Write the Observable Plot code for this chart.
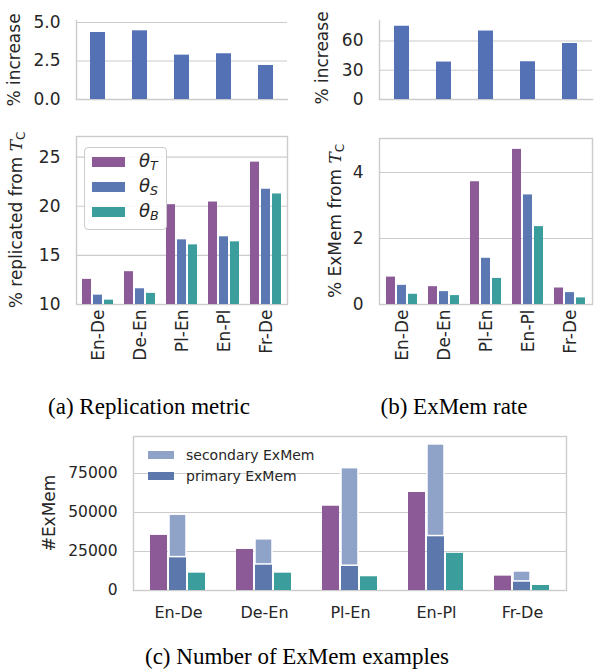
<!DOCTYPE html>
<html>
<head>
<meta charset="utf-8">
<script src="https://cdn.jsdelivr.net/npm/d3@7"></script>
<script src="https://cdn.jsdelivr.net/npm/@observablehq/plot@0.6"></script>
<style>
  body { margin: 0; background: white; }
  #fig { position: relative; width: 594px; height: 672px; overflow: hidden;
         font-family: "DejaVu Sans", sans-serif; color: #262626; }
  .ylab { position: absolute; white-space: nowrap; font-size: 17px; line-height: 1;
          transform: translate(-50%, -50%) rotate(-90deg); }
  .cap { position: absolute; white-space: nowrap; font-family: "Liberation Serif", serif;
         font-size: 23px; line-height: 23px; color: #000; transform: translateX(-50%); }
  .leg { position: absolute; }
  .patch { position: absolute; }
  .ltext { position: absolute; white-space: nowrap; transform: translateY(-50%); line-height: 1; }
  sub { font-size: 70%; vertical-align: -0.25em; }
</style>
</head>
<body>
<div id="fig"></div>
<script>
const pairs = ["En-De", "De-En", "Pl-En", "En-Pl", "Fr-De"];
const models = ["T", "S", "B"];

// (a) replication metric
const replIncrease = [4.35, 4.46, 2.88, 2.97, 2.21];
const replIncreaseTicks = [0, 2.5, 5];
const replT = [12.56, 13.34, 20.16, 20.43, 24.49];
const replS = [10.95, 11.60, 16.58, 16.89, 21.73];
const replB = [10.44, 11.13, 16.07, 16.38, 21.25];
const replTicks = [10, 15, 20, 25];

// (b) ExMem rate
const rateIncrease = [75.1, 38.4, 70.2, 38.7, 57.4];
const rateIncreaseTicks = [0, 30, 60];
const rateT = [0.83, 0.54, 3.72, 4.70, 0.50];
const rateS = [0.58, 0.39, 1.40, 3.32, 0.36];
const rateB = [0.31, 0.27, 0.79, 2.36, 0.20];
const rateTicks = [0, 2, 4];

// (c) number of ExMem examples
const countT = [35300, 26300, 54000, 62800, 9200];
const countPrimary = [21400, 16700, 15900, 34900, 5800];
const countTotal = [48600, 32800, 78400, 93600, 12200];
const countB = [11100, 11100, 8800, 23800, 3200];
const countTicks = [0, 25000, 50000, 75000];

const ink = "#262626", edge = "#cccccc";
const modelColors = ["#8b5a97", "#5c78b3", "#3c9e9c"];
const barBlue = "#5471b6", primBlue = "#5b77ab", lightBlue = "#8fa2c8";

const fig = document.getElementById("fig");

function place(node, left, top) {
  node.style.position = "absolute";
  node.style.left = left + "px";
  node.style.top = top + "px";
  fig.append(node);
}

function baseStyle(size) {
  return {fontFamily: "DejaVu Sans", fontSize: size + "px", color: ink,
          background: "transparent", overflow: "visible"};
}

function groupedRows(t, s, b) {
  return pairs.flatMap((p, i) => [
    {pair: p, model: "T", value: t[i]},
    {pair: p, model: "S", value: s[i]},
    {pair: p, model: "B", value: b[i]}
  ]);
}

// small "% increase" panels on top
function topPanel(values, ticks, fmt, ymax, ml, mr) {
  const rows = pairs.map((p, i) => ({pair: p, value: values[i]}));
  return Plot.plot({
    width: 297, height: 108,
    marginLeft: ml, marginRight: mr, marginTop: 20, marginBottom: 9,
    style: baseStyle(17),
    x: {domain: pairs, paddingInner: 0.64, paddingOuter: 0.32, axis: null},
    y: {domain: [0, ymax]},
    marks: [
      Plot.gridY(ticks, {stroke: edge, strokeOpacity: 1, strokeWidth: 1.2}),
      Plot.frame({anchor: "left", stroke: edge, strokeWidth: 1.4}),
      Plot.frame({anchor: "bottom", stroke: edge, strokeWidth: 1.4}),
      Plot.barY(rows, {x: "pair", y: "value", fill: barBlue}),
      Plot.axisY(ticks, {tickSize: 0, tickPadding: 16, tickFormat: fmt, label: null})
    ]
  });
}

// grid, frame and y axis behind the faceted bars
function background(w, h, m, domain, ticks, fmt, size) {
  return Plot.plot({
    width: w, height: h,
    marginLeft: m[0], marginRight: m[1], marginTop: m[2], marginBottom: m[3],
    style: baseStyle(size),
    y: {domain},
    marks: [
      Plot.gridY(ticks, {stroke: edge, strokeOpacity: 1, strokeWidth: 1.2}),
      Plot.frame({stroke: edge, strokeWidth: 1.4}),
      Plot.axisY(ticks, {tickSize: 0, tickPadding: 16, tickFormat: fmt, label: null})
    ]
  });
}

function midBars(rows, domain, m) {
  return Plot.plot({
    width: 297, height: 260,
    marginLeft: m[0], marginRight: m[1], marginTop: m[2], marginBottom: m[3],
    style: baseStyle(17),
    fx: {domain: pairs, paddingInner: 0.2, paddingOuter: 0.1, axis: "bottom", label: null,
         tickRotate: -90, tickSize: 0, tickPadding: 5},
    x: {domain: models, paddingInner: 0.15, paddingOuter: 0.075, axis: null},
    y: {domain, axis: null},
    color: {domain: models, range: modelColors},
    marks: [
      Plot.barY(rows, {fx: "pair", x: "model", y1: domain[0], y2: "value", fill: "model"})
    ]
  });
}

// ---- top row
place(topPanel(replIncrease, replIncreaseTicks, ".1f", 5.13, 76, 10), 0, 0);
place(topPanel(rateIncrease, rateIncreaseTicks, "d", 81, 82, 2), 297, 0);

// ---- middle row
const replDomain = [10, 27.1];
const rateDomain = [0, 5.03];
const mLeft = [76, 10, 16, 76];
const mRight = [82, 2, 18, 76];
place(background(297, 260, mLeft, replDomain, replTicks, "d", 17), 0, 120);
place(midBars(groupedRows(replT, replS, replB), replDomain, mLeft), 0, 120);
place(background(297, 260, mRight, rateDomain, rateTicks, "d", 17), 297, 120);
place(midBars(groupedRows(rateT, rateS, rateB), rateDomain, mRight), 297, 120);

// ---- bottom chart
const countDomain = [0, 98700];
const mBottom = [133, 28, 16, 45];
place(background(594, 215, mBottom, countDomain, countTicks, "d", 15.5), 0, 420);

const solidRows = pairs.flatMap((p, i) => [
  {pair: p, model: "T", y1: 0, y2: countT[i], color: modelColors[0]},
  {pair: p, model: "S", y1: 0, y2: countPrimary[i], color: primBlue},
  {pair: p, model: "B", y1: 0, y2: countB[i], color: modelColors[2]}
]);
const secondaryRows = pairs.map((p, i) => ({pair: p, model: "S", y1: countPrimary[i], y2: countTotal[i]}));

place(Plot.plot({
  width: 594, height: 215,
  marginLeft: mBottom[0], marginRight: mBottom[1], marginTop: mBottom[2], marginBottom: mBottom[3],
  style: baseStyle(16),
  fx: {domain: pairs, paddingInner: 0.327, paddingOuter: 0.164, axis: "bottom", label: null,
       tickSize: 0, tickPadding: 16},
  x: {domain: models, paddingInner: 0.09, paddingOuter: 0.045, axis: null},
  y: {domain: countDomain, axis: null},
  marks: [
    Plot.barY(solidRows, {fx: "pair", x: "model", y1: "y1", y2: "y2", fill: "color"}),
    Plot.barY(secondaryRows, {fx: "pair", x: "model", y1: "y1", y2: "y2", fill: lightBlue,
                              stroke: "white", strokeWidth: 1.5})
  ]
}), 0, 420);

// ---- y labels
const yLabels = [
  {html: "% increase", x: 14, y: 60},
  {html: "% replicated from <i style=\"font-family:'DejaVu Serif'\">T</i><sub>C</sub>", x: 18, y: 220},
  {html: "% increase", x: 322, y: 58},
  {html: "% ExMem from <i style=\"font-family:'DejaVu Serif'\">T</i><sub>C</sub>", x: 337, y: 221},
  {html: "#ExMem", x: 49, y: 513}
];
for (const l of yLabels) {
  const d = document.createElement("div");
  d.className = "ylab";
  d.innerHTML = l.html;
  d.style.left = l.x + "px";
  d.style.top = l.y + "px";
  fig.append(d);
}

// ---- legend of the replication panel
const legA = document.createElement("div");
legA.className = "leg";
Object.assign(legA.style, {left: "84px", top: "147px", width: "83px", height: "83px",
  background: "rgba(255,255,255,0.85)", border: "1px solid #cccccc", borderRadius: "4px",
  boxSizing: "border-box"});
models.forEach((m, i) => {
  const p = document.createElement("div");
  p.className = "patch";
  Object.assign(p.style, {left: "7px", top: (9 + 25 * i) + "px", width: "33px", height: "10px",
    background: modelColors[i]});
  legA.append(p);
  const t = document.createElement("div");
  t.className = "ltext";
  t.style.left = "54px";
  t.style.top = (14 + 25 * i) + "px";
  t.style.fontSize = "18px";
  t.innerHTML = `<i>θ</i><sub><i>${m}</i></sub>`;
  legA.append(t);
});
fig.append(legA);

// ---- legend of the count chart
const legC = [
  {label: "secondary ExMem", color: lightBlue},
  {label: "primary ExMem", color: primBlue}
];
legC.forEach((e, i) => {
  const cy = 454.5 + 21 * i;
  const p = document.createElement("div");
  p.className = "patch";
  Object.assign(p.style, {left: "148px", top: (cy - 4) + "px", width: "26px", height: "8px",
    background: e.color});
  fig.append(p);
  const t = document.createElement("div");
  t.className = "ltext";
  Object.assign(t.style, {left: "186px", top: cy + "px", fontSize: "14px"});
  t.textContent = e.label;
  fig.append(t);
});

// ---- captions
const captions = [
  {text: "(a) Replication metric", x: 149, y: 395},
  {text: "(b) ExMem rate", x: 454, y: 395},
  {text: "(c) Number of ExMem examples", x: 297, y: 645}
];
for (const c of captions) {
  const d = document.createElement("div");
  d.className = "cap";
  d.textContent = c.text;
  d.style.left = c.x + "px";
  d.style.top = c.y + "px";
  fig.append(d);
}
</script>
</body>
</html>
